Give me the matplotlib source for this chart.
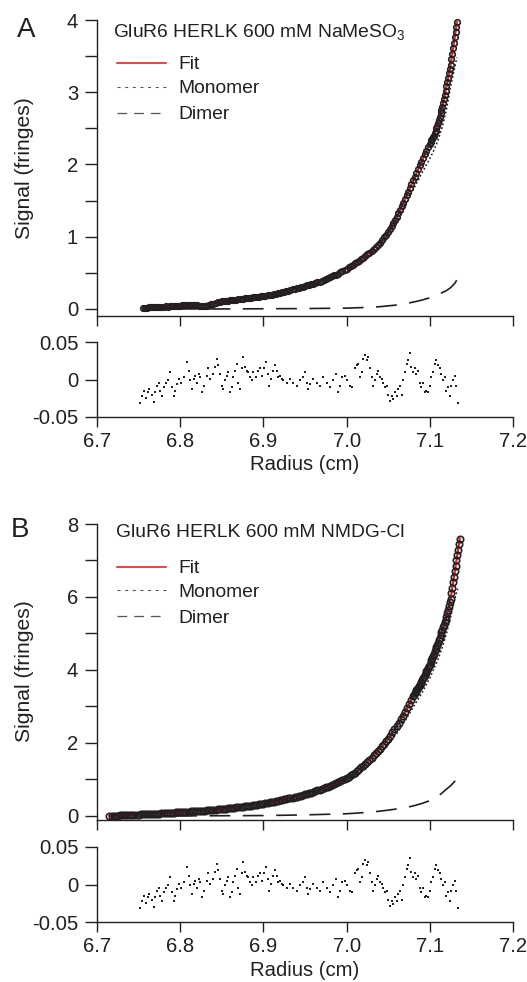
import matplotlib
matplotlib.use("Agg")
import matplotlib.pyplot as plt
from matplotlib.lines import Line2D
from matplotlib.ticker import MultipleLocator, FixedLocator, FixedFormatter, FormatStrFormatter

plt.rcParams['font.family'] = ['Liberation Sans', 'DejaVu Sans']
plt.rcParams['mathtext.fontset'] = 'custom'
plt.rcParams['mathtext.rm'] = 'Liberation Sans'
plt.rcParams['mathtext.it'] = 'Liberation Sans'
plt.rcParams['axes.unicode_minus'] = False
plt.rcParams['lines.scale_dashes'] = False

# ---------------- Panel A data ----------------
radius_A = [6.7550, 6.7575, 6.7600, 6.7625, 6.7650, 6.7675, 6.7700, 6.7725, 6.7750, 6.7775,
            6.7800, 6.7825, 6.7850, 6.7875, 6.7900, 6.7925, 6.7950, 6.7975, 6.8000, 6.8025,
            6.8050, 6.8075, 6.8100, 6.8125, 6.8150, 6.8175, 6.8200, 6.8225, 6.8250, 6.8275,
            6.8300, 6.8325, 6.8350, 6.8375, 6.8400, 6.8425, 6.8450, 6.8475, 6.8500, 6.8525,
            6.8550, 6.8575, 6.8600, 6.8625, 6.8650, 6.8675, 6.8700, 6.8725, 6.8750, 6.8775,
            6.8800, 6.8825, 6.8850, 6.8875, 6.8900, 6.8925, 6.8950, 6.8975, 6.9000, 6.9025,
            6.9050, 6.9075, 6.9100, 6.9125, 6.9150, 6.9175, 6.9200, 6.9225, 6.9250, 6.9275,
            6.9300, 6.9325, 6.9350, 6.9375, 6.9400, 6.9425, 6.9450, 6.9475, 6.9500, 6.9525,
            6.9550, 6.9575, 6.9600, 6.9625, 6.9650, 6.9675, 6.9700, 6.9725, 6.9750, 6.9775,
            6.9800, 6.9825, 6.9850, 6.9875, 6.9900, 6.9925, 6.9950, 6.9975,
            7.0000, 7.0025, 7.0050, 7.0075, 7.0100, 7.0125, 7.0150, 7.0175, 7.0200, 7.0225,
            7.0250, 7.0275, 7.0300, 7.0325, 7.0350, 7.0375, 7.0400, 7.0425, 7.0450, 7.0475,
            7.050, 7.052, 7.054, 7.056, 7.058, 7.060, 7.062, 7.064, 7.066, 7.068,
            7.070, 7.072, 7.074, 7.076, 7.078, 7.080, 7.082, 7.084, 7.086, 7.088,
            7.090, 7.092, 7.094, 7.096, 7.098,
            7.100, 7.101, 7.102, 7.103, 7.104, 7.105, 7.106, 7.107, 7.108, 7.109,
            7.110, 7.111, 7.112, 7.113, 7.114, 7.115, 7.116, 7.117, 7.118, 7.119,
            7.120, 7.121, 7.122, 7.123, 7.124, 7.125, 7.126, 7.127, 7.128, 7.129,
            7.130, 7.131, 7.132, 7.1325]
signal_A = [0.018, 0.016, 0.020, 0.023, 0.022, 0.021, 0.024, 0.028, 0.027, 0.026,
            0.030, 0.035, 0.034, 0.036, 0.040, 0.045, 0.043, 0.041, 0.046, 0.054,
            0.052, 0.058, 0.056, 0.050, 0.053, 0.055, 0.049, 0.046, 0.044, 0.040,
            0.042, 0.048, 0.055, 0.064, 0.072, 0.083, 0.090, 0.098, 0.105, 0.112,
            0.113, 0.116, 0.120, 0.126, 0.127, 0.130, 0.135, 0.140, 0.142, 0.146,
            0.150, 0.155, 0.157, 0.160, 0.165, 0.170, 0.172, 0.175, 0.180, 0.186,
            0.190, 0.195, 0.200, 0.207, 0.212, 0.218, 0.225, 0.233, 0.240, 0.247,
            0.255, 0.263, 0.270, 0.277, 0.285, 0.294, 0.302, 0.311, 0.320, 0.327,
            0.335, 0.342, 0.350, 0.360, 0.370, 0.380, 0.390, 0.402, 0.415, 0.428,
            0.440, 0.452, 0.465, 0.477, 0.490, 0.507, 0.525, 0.543,
            0.560, 0.578, 0.595, 0.612, 0.630, 0.650, 0.670, 0.690, 0.710, 0.732,
            0.755, 0.777, 0.800, 0.830, 0.858, 0.888, 0.920, 0.955, 0.992, 1.030,
            1.070, 1.110, 1.150, 1.195, 1.238, 1.280, 1.328, 1.376, 1.424, 1.472,
            1.520, 1.572, 1.624, 1.676, 1.728, 1.780, 1.832, 1.884, 1.936, 1.988,
            2.040, 2.090, 2.140, 2.190, 2.240,
            2.290, 2.312, 2.334, 2.356, 2.378, 2.400, 2.434, 2.468, 2.502, 2.536,
            2.570, 2.616, 2.662, 2.708, 2.754, 2.800, 2.856, 2.912, 2.968, 3.024,
            3.080, 3.140, 3.200, 3.260, 3.320, 3.380, 3.456, 3.532, 3.608, 3.684,
            3.760, 3.830, 3.900, 3.970]

fit_radius_A = [6.755, 6.78, 6.80, 6.83, 6.86, 6.88, 6.90, 6.92, 6.94, 6.96, 6.98,
                7.00, 7.02, 7.04, 7.05, 7.06, 7.07, 7.08, 7.09, 7.10, 7.105,
                7.11, 7.115, 7.12, 7.125, 7.13, 7.1325]
fit_A = [0.015, 0.028, 0.042, 0.068, 0.105, 0.140, 0.180, 0.225, 0.285, 0.350, 0.440,
         0.560, 0.710, 0.920, 1.070, 1.280, 1.520, 1.780, 2.040, 2.290, 2.400,
         2.570, 2.800, 3.080, 3.380, 3.760, 3.970]

mono_radius_A = [6.755, 6.80, 6.85, 6.90, 6.95, 7.00, 7.02, 7.04, 7.06, 7.07, 7.08,
                 7.09, 7.10, 7.105, 7.11, 7.115, 7.12, 7.125, 7.13, 7.1325]
monomer_A = [0.010, 0.040, 0.090, 0.170, 0.310, 0.540, 0.680, 0.880, 1.200, 1.420, 1.650,
             1.870, 2.080, 2.200, 2.340, 2.520, 2.760, 3.080, 3.340, 3.480]

dimer_radius_A = [6.755, 6.85, 6.90, 6.95, 7.00, 7.02, 7.04, 7.06, 7.07, 7.08, 7.09,
                  7.10, 7.11, 7.12, 7.125, 7.13, 7.1325]
dimer_A = [0.000, 0.001, 0.003, 0.006, 0.012, 0.020, 0.032, 0.055, 0.072, 0.095, 0.122,
           0.155, 0.200, 0.255, 0.295, 0.355, 0.400]

# ---------------- Panel B data ----------------
radius_B = [6.7150, 6.7175, 6.7200, 6.7225, 6.7250, 6.7275, 6.7300, 6.7325, 6.7350, 6.7375,
            6.7400, 6.7425, 6.7450, 6.7475, 6.7500, 6.7525, 6.7550, 6.7575, 6.7600, 6.7625,
            6.7650, 6.7675, 6.7700, 6.7725, 6.7750, 6.7775, 6.7800, 6.7825, 6.7850, 6.7875,
            6.7900, 6.7925, 6.7950, 6.7975, 6.8000, 6.8025, 6.8050, 6.8075, 6.8100, 6.8125,
            6.8150, 6.8175, 6.8200, 6.8225, 6.8250, 6.8275, 6.8300, 6.8325, 6.8350, 6.8375,
            6.8400, 6.8425, 6.8450, 6.8475, 6.8500, 6.8525, 6.8550, 6.8575, 6.8600, 6.8625,
            6.8650, 6.8675, 6.8700, 6.8725, 6.8750, 6.8775, 6.8800, 6.8825, 6.8850, 6.8875,
            6.8900, 6.8925, 6.8950, 6.8975, 6.9000, 6.9025, 6.9050, 6.9075, 6.9100, 6.9125,
            6.9150, 6.9175, 6.9200, 6.9225, 6.9250, 6.9275, 6.9300, 6.9325, 6.9350, 6.9375,
            6.9400, 6.9425, 6.9450, 6.9475, 6.9500, 6.9525, 6.9550, 6.9575, 6.9600, 6.9625,
            6.9650, 6.9675, 6.9700, 6.9725, 6.9750, 6.9775, 6.9800, 6.9825, 6.9850, 6.9875,
            6.9900, 6.9925, 6.9950, 6.9975,
            7.0000, 7.0025, 7.0050, 7.0075, 7.0100, 7.0125, 7.0150, 7.0175, 7.0200, 7.0225,
            7.0250, 7.0275, 7.0300, 7.0325, 7.0350, 7.0375, 7.0400, 7.0425, 7.0450, 7.0475,
            7.0500, 7.0525, 7.0550, 7.0575, 7.0600, 7.0625, 7.0650, 7.0675, 7.0700, 7.0725,
            7.0750, 7.0775,
            7.080, 7.081, 7.082, 7.083, 7.084, 7.085, 7.086, 7.087, 7.088, 7.089,
            7.090, 7.091, 7.092, 7.093, 7.094, 7.095, 7.096, 7.097, 7.098, 7.099,
            7.100, 7.101, 7.102, 7.103, 7.104, 7.105, 7.106, 7.107, 7.108, 7.109,
            7.110, 7.111, 7.112, 7.113, 7.114, 7.115, 7.116, 7.117, 7.118, 7.119,
            7.120, 7.121, 7.122, 7.123, 7.124, 7.125, 7.126, 7.127, 7.128, 7.129,
            7.130, 7.131, 7.132, 7.133, 7.134, 7.135, 7.136]
signal_B = [0.000, 0.003, 0.005, 0.009, 0.012, 0.015, 0.018, 0.020, 0.022, 0.025,
            0.028, 0.031, 0.034, 0.037, 0.040, 0.043, 0.045, 0.048, 0.050, 0.053,
            0.055, 0.058, 0.060, 0.064, 0.067, 0.071, 0.075, 0.079, 0.082, 0.086,
            0.090, 0.094, 0.097, 0.101, 0.105, 0.109, 0.112, 0.116, 0.120, 0.124,
            0.127, 0.131, 0.135, 0.139, 0.142, 0.146, 0.150, 0.155, 0.160, 0.165,
            0.170, 0.175, 0.180, 0.185, 0.190, 0.196, 0.202, 0.208, 0.215, 0.221,
            0.227, 0.233, 0.240, 0.247, 0.255, 0.262, 0.270, 0.277, 0.285, 0.292,
            0.300, 0.310, 0.320, 0.330, 0.340, 0.350, 0.360, 0.370, 0.380, 0.392,
            0.405, 0.417, 0.430, 0.442, 0.455, 0.467, 0.480, 0.492, 0.505, 0.517,
            0.530, 0.545, 0.560, 0.575, 0.590, 0.607, 0.625, 0.642, 0.660, 0.680,
            0.700, 0.720, 0.740, 0.762, 0.785, 0.807, 0.830, 0.855, 0.880, 0.905,
            0.930, 0.960, 0.990, 1.020,
            1.050, 1.082, 1.115, 1.148, 1.180, 1.230, 1.280, 1.330, 1.380, 1.435,
            1.490, 1.545, 1.600, 1.660, 1.720, 1.780, 1.840, 1.910, 1.980, 2.050,
            2.120, 2.205, 2.290, 2.375, 2.460, 2.558, 2.655, 2.752, 2.850, 2.958,
            3.065, 3.172,
            3.280, 3.320, 3.360, 3.400, 3.440, 3.480, 3.520, 3.560, 3.600, 3.640,
            3.680, 3.727, 3.774, 3.821, 3.868, 3.915, 3.962, 4.009, 4.056, 4.103,
            4.150, 4.210, 4.270, 4.330, 4.390, 4.450, 4.510, 4.570, 4.630, 4.690,
            4.750, 4.820, 4.890, 4.960, 5.030, 5.100, 5.170, 5.240, 5.310, 5.380,
            5.450, 5.550, 5.650, 5.750, 5.850, 5.950, 6.100, 6.250, 6.400, 6.550,
            6.700, 6.850, 7.000, 7.150, 7.300, 7.450, 7.600]

fit_radius_B = [6.715, 6.75, 6.79, 6.83, 6.87, 6.91, 6.95, 6.97, 6.99, 7.00, 7.01,
                7.02, 7.03, 7.04, 7.05, 7.06, 7.07, 7.08, 7.09, 7.10, 7.11,
                7.12, 7.125, 7.13, 7.136]
fit_B = [0.000, 0.040, 0.090, 0.150, 0.240, 0.380, 0.590, 0.740, 0.930, 1.050, 1.180,
         1.380, 1.600, 1.840, 2.120, 2.460, 2.850, 3.280, 3.680, 4.150, 4.750,
         5.450, 5.950, 6.700, 7.600]

mono_radius_B = [6.715, 6.80, 6.90, 6.95, 7.00, 7.02, 7.04, 7.06, 7.07, 7.08, 7.09,
                 7.10, 7.11, 7.115, 7.12, 7.125, 7.13, 7.1335]
monomer_B = [0.000, 0.090, 0.310, 0.550, 0.980, 1.280, 1.700, 2.250, 2.600, 2.980, 3.350,
             3.780, 4.300, 4.620, 5.000, 5.450, 5.950, 6.230]

dimer_radius_B = [6.715, 6.80, 6.90, 6.95, 7.00, 7.03, 7.05, 7.07, 7.08, 7.09, 7.10,
                  7.11, 7.12, 7.125, 7.13, 7.1335]
dimer_B = [0.000, 0.003, 0.012, 0.030, 0.062, 0.105, 0.160, 0.225, 0.275, 0.340, 0.420,
           0.540, 0.735, 0.830, 0.950, 1.040]

# ---------------- Residuals (identical in both panels) ----------------
res_radius = [6.752, 6.754, 6.756, 6.759, 6.761, 6.763, 6.766, 6.768, 6.770, 6.772,
              6.774, 6.776, 6.778, 6.780, 6.783, 6.785, 6.788, 6.790, 6.792, 6.794,
              6.796, 6.798, 6.801, 6.804, 6.808, 6.810, 6.812, 6.814, 6.816, 6.818,
              6.820, 6.822, 6.824, 6.826, 6.829, 6.832, 6.834, 6.836, 6.839, 6.842,
              6.844, 6.846, 6.848, 6.850, 6.852, 6.854, 6.856, 6.858, 6.860, 6.862,
              6.864, 6.866, 6.868, 6.870, 6.872, 6.874, 6.876, 6.878, 6.880, 6.882,
              6.884, 6.886, 6.888, 6.891, 6.894, 6.896, 6.898, 6.901, 6.903, 6.905,
              6.907, 6.909, 6.912, 6.914, 6.916, 6.918, 6.920, 6.922, 6.924, 6.928,
              6.932, 6.936, 6.940, 6.944, 6.947, 6.950, 6.952, 6.954, 6.956, 6.960,
              6.964, 6.968, 6.972, 6.976, 6.980, 6.984, 6.987, 6.990, 6.992, 6.995,
              6.998, 7.001, 7.004, 7.007, 7.010, 7.012, 7.014, 7.016, 7.018, 7.020,
              7.022, 7.024, 7.026, 7.028, 7.030, 7.032, 7.034, 7.036, 7.038, 7.040,
              7.042, 7.044, 7.046, 7.048, 7.050, 7.052, 7.054, 7.056, 7.058, 7.060,
              7.062, 7.064, 7.066, 7.068, 7.070, 7.072, 7.074, 7.076, 7.078, 7.080,
              7.082, 7.084, 7.086, 7.088, 7.090, 7.092, 7.094, 7.096, 7.098, 7.100,
              7.102, 7.104, 7.106, 7.108, 7.110, 7.112, 7.114, 7.116, 7.118, 7.120,
              7.122, 7.124, 7.126, 7.128, 7.130, 7.132, 7.134]
res_value = [-0.031, -0.022, -0.015, -0.025, -0.017, -0.013, -0.020, -0.030, -0.017, -0.008,
             -0.004, -0.015, -0.022, -0.010, -0.005, -0.001, 0.010, -0.010, -0.022, -0.015,
             -0.006, 0.001, -0.004, 0.003, 0.024, 0.012, -0.001, -0.013, 0.001, 0.005,
             -0.004, 0.008, 0.003, -0.017, -0.008, 0.005, 0.015, 0.001, 0.008, 0.017,
             0.028, 0.019, 0.008, -0.008, -0.013, -0.001, 0.005, 0.010, -0.017, -0.010,
             0.003, 0.012, 0.021, -0.004, -0.013, 0.015, 0.030, 0.017, 0.012, 0.010,
             0.003, -0.001, 0.010, 0.003, 0.012, 0.015, 0.005, 0.015, 0.024, 0.008,
             -0.008, 0.001, 0.012, 0.019, 0.012, 0.003, 0.005, 0.001, -0.001, -0.004,
             0.001, -0.004, -0.008, -0.001, 0.003, 0.010, -0.004, -0.013, -0.006, 0.001,
             -0.004, -0.008, 0.003, -0.004, -0.010, -0.001, 0.008, -0.017, -0.008, 0.003,
             0.005, -0.001, -0.008, -0.010, 0.015, 0.019, 0.021, 0.003, 0.010, 0.028,
             0.033, 0.026, 0.030, 0.015, 0.003, -0.008, -0.001, 0.008, 0.012, 0.003,
             0.001, -0.004, -0.010, -0.008, -0.020, -0.029, -0.022, -0.026, -0.017, -0.022,
             -0.013, -0.008, -0.020, -0.001, 0.010, 0.021, 0.026, 0.035, 0.017, 0.010,
             0.015, 0.008, 0.012, -0.004, -0.010, -0.004, -0.017, -0.015, -0.017, -0.008,
             0.003, 0.010, 0.021, 0.026, 0.019, 0.015, 0.008, -0.001, 0.003, -0.015,
             -0.010, -0.022, -0.008, -0.001, 0.005, -0.008, -0.031]

INK = '#231f20'
RED = '#e0282a'
W, H = 527, 982
FS_TICK = 14.6
FS_LEG = 13.9


def fx(px):
    return px / W


def fy(py):
    return 1 - py / H


fig = plt.figure(figsize=(W / 100, H / 100), dpi=100)


def rect(top, bottom, left=97, right=513):
    return [fx(left), fy(bottom), (right - left) / W, (bottom - top) / H]


def style_axes(ax):
    for s in ('top', 'right'):
        ax.spines[s].set_visible(False)
    for s in ('left', 'bottom'):
        ax.spines[s].set_linewidth(1.0)
        ax.spines[s].set_color(INK)
    ax.set_xlim(6.7, 7.2)
    ax.xaxis.set_major_locator(MultipleLocator(0.1))
    ax.tick_params(axis='x', direction='out', length=7, width=1.0, color=INK,
                   labelsize=FS_TICK, labelcolor=INK, pad=4)
    ax.tick_params(axis='y', which='both', direction='out', length=8.5, width=1.0,
                   color=INK, labelsize=FS_TICK, labelcolor=INK, pad=5)


def main_panel(top, bottom, ylim, major, minor, r, s, fr, f, mr, m, dr, d, ms):
    ax = fig.add_axes(rect(top, bottom))
    style_axes(ax)
    ax.set_ylim(*ylim)
    ax.yaxis.set_major_locator(MultipleLocator(major))
    ax.yaxis.set_minor_locator(MultipleLocator(minor))
    ax.yaxis.set_major_formatter(FormatStrFormatter('%d'))
    ax.tick_params(axis='x', labelbottom=False)
    ax.plot(dr, d, color=INK, lw=1.2, dashes=(15, 9), zorder=2)
    ax.plot(mr, m, color=INK, lw=1.1, dashes=(1.3, 1.6), zorder=2)
    ax.plot(fr, f, color=RED, lw=1.6, zorder=2.5, clip_on=False)
    ax.plot(r, s, linestyle='none', marker='o', ms=ms, mfc='none', mec=INK,
            mew=1.2, zorder=3, clip_on=False)
    return ax


def resid_panel(top, bottom):
    ax = fig.add_axes(rect(top, bottom))
    style_axes(ax)
    ax.set_ylim(-0.05, 0.05)
    ax.yaxis.set_major_locator(FixedLocator([-0.05, 0.0, 0.05]))
    ax.yaxis.set_major_formatter(FixedFormatter(['-0.05', '0', '0.05']))
    ax.xaxis.set_major_formatter(FormatStrFormatter('%.1f'))
    ax.plot(res_radius, res_value, linestyle='none', marker='s', ms=1.6, mew=0,
            color=INK, zorder=3)
    return ax


def legend(title, tx, ty, ly, tb):
    fig.text(fx(tx), fy(ty), title, fontsize=FS_LEG, color=INK, ha='left', va='baseline')
    x0, x1 = fx(117), fx(166)
    fig.add_artist(Line2D([x0, x1], [fy(ly[0])] * 2, color=RED, lw=1.2))
    fig.add_artist(Line2D([x0, x1], [fy(ly[1])] * 2, color='#555555', lw=0.8,
                          dashes=(2.2, 3.3)))
    fig.add_artist(Line2D([x0, x1], [fy(ly[2])] * 2, color='#555555', lw=0.9,
                          dashes=(7, 5)))
    for lab, b in zip(['Fit', 'Monomer', 'Dimer'], tb):
        fig.text(fx(178), fy(b), lab, fontsize=FS_LEG, color=INK, ha='left', va='baseline')


# Panel A
main_panel(20, 316, (-0.097, 4.0), 1, 0.5, radius_A, signal_A, fit_radius_A, fit_A,
           mono_radius_A, monomer_A, dimer_radius_A, dimer_A, 4.0)
resid_panel(342, 417)
# Panel B
main_panel(524, 819.5, (-0.096, 8.0), 2, 1, radius_B, signal_B, fit_radius_B, fit_B,
           mono_radius_B, monomer_B, dimer_radius_B, dimer_B, 4.6)
resid_panel(847, 922)

legend('GluR6 HERLK 600 mM NaMeSO$_3$', 113, 36.5, [63.3, 87.3, 112.7], [69, 93, 119])
legend('GluR6 HERLK 600 mM NMDG-Cl', 116, 536.7, [567.3, 590, 616], [573, 597, 622.7])

fig.text(fx(16.5), fy(36.7), 'A', fontsize=20, color=INK, ha='left', va='baseline')
fig.text(fx(10.5), fy(536.7), 'B', fontsize=20, color=INK, ha='left', va='baseline')

for yc in (168, 671.5):
    fig.text(fx(24.5), fy(yc), 'Signal (fringes)', fontsize=15.2, color=INK,
             rotation=90, ha='center', va='center')
for yc in (465, 970):
    fig.text(fx(305), fy(yc), 'Radius (cm)', fontsize=FS_TICK, color=INK,
             ha='center', va='center')

fig.savefig('out.png', dpi=100)
